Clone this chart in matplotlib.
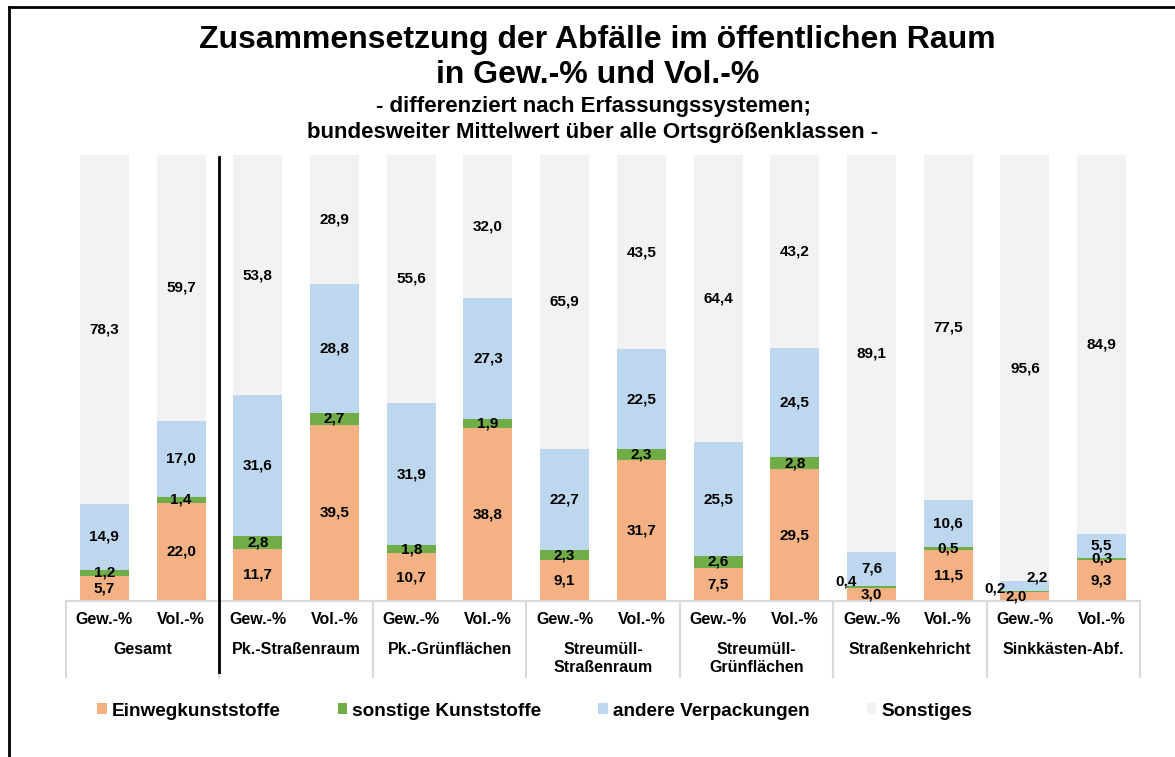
import numpy as np
import matplotlib.pyplot as plt
from matplotlib.lines import Line2D

plt.rcParams['font.family'] = ['Liberation Sans', 'DejaVu Sans']
plt.rcParams['font.weight'] = 'bold'

# Erfassungssysteme und Bezugsgroessen
groups = ['Gesamt', 'Pk.-Straßenraum', 'Pk.-Grünflächen', 'Streumüll-\nStraßenraum',
          'Streumüll-\nGrünflächen', 'Straßenkehricht', 'Sinkkästen-Abf.']
units = ['Gew.-%', 'Vol.-%']

# Anteile in % (je Gruppe: Gew.-%, Vol.-%)
einweg = [5.7, 22.0, 11.7, 39.5, 10.7, 38.8, 9.1, 31.7, 7.5, 29.5, 3.0, 11.5, 2.0, 9.3]
sonst_kunst = [1.2, 1.4, 2.8, 2.7, 1.8, 1.9, 2.3, 2.3, 2.6, 2.8, 0.4, 0.5, 0.2, 0.3]
andere_verp = [14.9, 17.0, 31.6, 28.8, 31.9, 27.3, 22.7, 22.5, 25.5, 24.5, 7.6, 10.6, 2.2, 5.5]
sonstiges = [78.3, 59.7, 53.8, 28.9, 55.6, 32.0, 65.9, 43.5, 64.4, 43.2, 89.1, 77.5, 95.6, 84.9]

series = [einweg, sonst_kunst, andere_verp, sonstiges]
names = ['Einwegkunststoffe', 'sonstige Kunststoffe', 'andere Verpackungen', 'Sonstiges']
colors = ['#F4B183', '#70AD47', '#BDD7EE', '#F2F2F2']

# label shifts in pixels for the tiny segments (series, bar) -> (dx, dy)
shifts = {(1, 10): (-25, 5), (1, 12): (-30, 3), (2, 12): (12, 9), (0, 12): (-9, 0)}

fig = plt.figure(figsize=(11.75, 7.57), dpi=100)
ax = fig.add_axes([66/1175, 1 - 601/757, 1074/1175, 446/757])
px = 100 / 446  # one pixel in data units (y)

x = np.arange(len(einweg))
bottom = np.zeros(len(x))
handles = []
for k, (vals, col) in enumerate(zip(series, colors)):
    vals = np.array(vals)
    b = ax.bar(x, vals, 0.64, bottom=bottom, color=col, edgecolor='none')
    handles.append(b)
    for i in range(len(x)):
        dx, dy = shifts.get((k, i), (0, 0))
        ax.annotate(f'{vals[i]:.1f}'.replace('.', ','), (x[i], bottom[i] + vals[i] / 2),
                    xytext=(dx * 0.72, dy * 0.72), textcoords='offset points',
                    ha='center', va='center', fontsize=11, fontweight='bold')
    bottom += vals

ax.set_xlim(-0.5, len(x) - 0.5)
ax.set_ylim(0, 100)
ax.axis('off')

# category axis drawn by hand
sep_col = '#D9D9D9'
ax.plot([-0.5, len(x) - 0.5], [0, 0], color=sep_col, lw=1.5, clip_on=False)
for g in range(len(groups) + 1):
    xs = g * 2 - 0.5
    ax.plot([xs, xs], [0, -76 * px], color=sep_col, lw=1.5, clip_on=False)
for i in x:
    ax.text(i, -19 * px, units[i % 2], ha='center', va='center', fontsize=11.5,
            fontweight='bold')
for g, name in enumerate(groups):
    for j, line in enumerate(name.split('\n')):
        ax.text(g * 2 + 0.5, -(48 + 19 * j) * px, line, ha='center', va='center',
                fontsize=11.5, fontweight='bold')
ax.plot([1.5, 1.5], [99.5, -71 * px], color='black', lw=2, clip_on=False)

# titles
fig.text(597/1175, 1 - 48/757, 'Zusammensetzung der Abfälle im öffentlichen Raum',
         ha='center', va='baseline', fontsize=23, fontweight='bold')
fig.text(598/1175, 1 - 83/757, 'in Gew.-% und Vol.-%',
         ha='center', va='baseline', fontsize=23, fontweight='bold')
fig.text(593/1175, 1 - 112/757, '- differenziert nach Erfassungssystemen;',
         ha='center', va='baseline', fontsize=16, fontweight='bold')
fig.text(593/1175, 1 - 138/757, 'bundesweiter Mittelwert über alle Ortsgrößenklassen -',
         ha='center', va='baseline', fontsize=16, fontweight='bold')

fig.legend(handles, names, ncol=4, loc='center left', bbox_to_anchor=(97/1175, 1 - 711/757),
           frameon=False, fontsize=13.7, handlelength=0.5, handleheight=0.5,
           handletextpad=0.27, columnspacing=3.0, borderaxespad=0, borderpad=0)

# outer frame (top and left edge visible)
fig.add_artist(Line2D([9/1175, 1], [1 - 7/757, 1 - 7/757], color='black', lw=2))
fig.add_artist(Line2D([9/1175, 9/1175], [0, 1 - 7/757], color='black', lw=2))

fig.savefig('out.png', dpi=100)
